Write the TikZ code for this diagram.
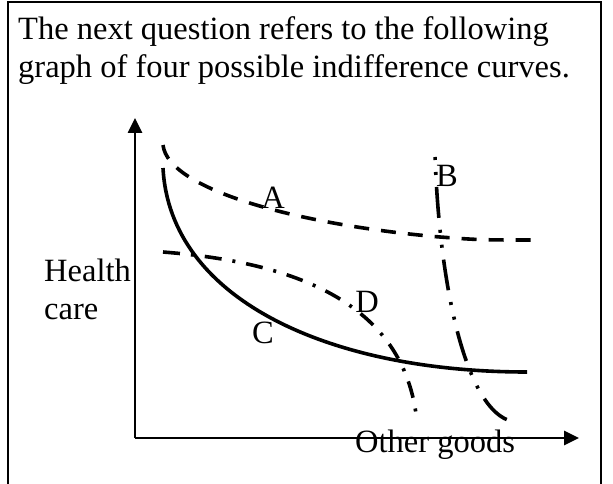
\documentclass[tikz,border=0pt]{standalone}
\usepackage{fontspec}
\setmainfont{Liberation Serif}
\usetikzlibrary{arrows.meta}
\begin{document}
\begin{tikzpicture}[x=1pt, y=-1pt,
        every node/.style={inner sep=0pt, font=\fontsize{32.5}{38}\selectfont},
        curvelbl/.style={anchor=center},
        axis/.style={line width=2.6pt, -{Triangle[length=15pt,width=14pt]}},
        curvec/.style={line width=3.6pt},
        curvea/.style={line width=3.6pt, dash pattern=on 15pt off 12pt},
        curveb/.style={line width=3.6pt, dash pattern=on 31pt off 12pt on 3pt off 12pt on 3pt off 12pt, dash phase=41pt},
        curved/.style={line width=3.6pt, dash pattern=on 17pt off 11pt on 3pt off 11pt}]
    \useasboundingbox (0,0) rectangle (613,484);
    \draw[line width=2.2pt] (8,484) -- (8,2) -- (601,2) -- (601,484);

    \node[anchor=north west, align=left] (title) at (18,16)
        {The next question refers to the following\\graph of four possible indifference curves.};

    \coordinate (origin) at (135,438);
    \coordinate (ytip) at (135,118);
    \coordinate (xtip) at (579,438);
    \draw[axis] (origin) -- (ytip);
    \draw[axis] (origin) -- (xtip);

    \node[anchor=north west, align=left] (ylbl) at (44,259) {Health\\care};
    \node[anchor=base west] (xlbl) at (355,452) {Other goods};

    % the four curves
    \draw[curvea] (163,145) .. controls (168,190) and (300,225) .. (440,237)
                  .. controls (480,240) .. (538,240);
    \draw[curveb] (435,155) .. controls (440,300) and (470,420) .. (517,422);
    \draw[curvec] (163,168) .. controls (170,300) and (330,372) .. (527,372);
    \draw[curved] (163,252) .. controls (290,262) and (405,300) .. (417,422);

    \node[curvelbl] (lbla) at (273,198) {A};
    \node[curvelbl] (lblb) at (447,176) {B};
    \node[curvelbl] (lblc) at (263,333) {C};
    \node[curvelbl] (lbld) at (367,302) {D};
\end{tikzpicture}
\end{document}
